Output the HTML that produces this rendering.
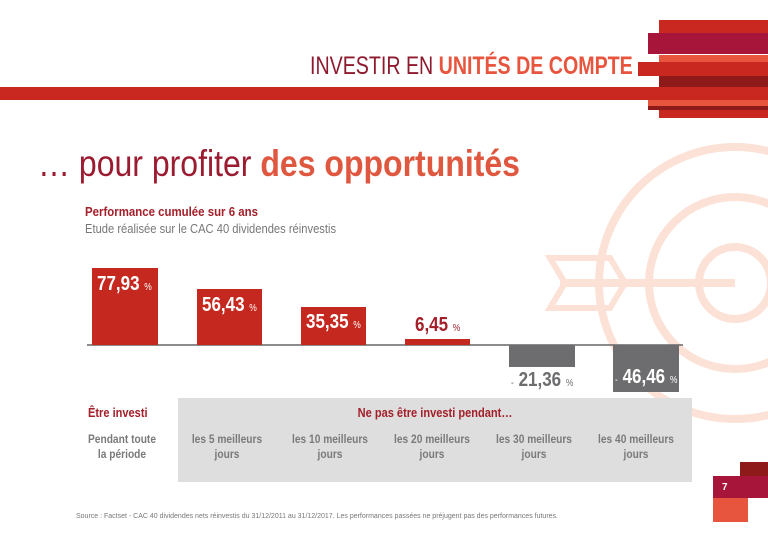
<!DOCTYPE html>
<html><head><meta charset="utf-8"><style>
*{margin:0;padding:0;box-sizing:border-box}
body{width:768px;height:543px;overflow:hidden;background:#fff;position:relative;font-family:"Liberation Sans",sans-serif}
.a{position:absolute;transform-origin:0 0}
.bar{position:absolute;background:#c4281f}
.g{background:#6d6d6f}
.lab{position:absolute;color:#fff;font-weight:bold;font-size:20px;white-space:nowrap;transform:scaleX(0.85);transform-origin:0 0}
.lab small{font-size:10px;font-weight:normal}
.row{position:absolute;top:432px;width:110px;text-align:center;font-size:12px;color:#7a7a7a;line-height:15px;font-weight:bold;transform:scaleX(0.85);transform-origin:50% 0}
</style></head><body>
<svg class="a" style="left:0;top:0" width="768" height="543">
<g fill="none" stroke="#fbe1d6" stroke-width="8">
<circle cx="735" cy="283" r="136"/>
<circle cx="735" cy="283" r="86"/>
<circle cx="735" cy="283" r="36"/>
<line x1="560" y1="283" x2="735" y2="283"/>
<path d="M550 258 L610 258 L625 283 L610 308 L550 308 L565 283 Z" stroke-width="6"/>
</g>
<rect x="659" y="20" width="109" height="13" fill="#c8281f"/>
<rect x="648" y="33" width="120" height="21" fill="#a8153a"/>
<rect x="659" y="55" width="109" height="7" fill="#e8553f"/>
<rect x="638" y="62" width="130" height="14" fill="#c8281f"/>
<rect x="659" y="76" width="109" height="11" fill="#8e1a1a"/>
<rect x="0" y="87" width="768" height="13" fill="#c8281f"/>
<rect x="648" y="100" width="120" height="6" fill="#e8553f"/>
<rect x="648" y="106" width="120" height="4" fill="#8e1a1a"/>
<rect x="659" y="110" width="109" height="8" fill="#c8281f"/>
<rect x="740" y="462" width="28" height="14" fill="#8e1a1a"/>
<rect x="713" y="476" width="55" height="22" fill="#a8153a"/>
<rect x="713" y="498" width="35" height="24" fill="#e8553f"/>
<rect x="178" y="398" width="514" height="84" fill="#dedede"/>
<line x1="87" y1="345" x2="683" y2="345" stroke="#666" stroke-width="1.5"/>
</svg>
<div class="a" style="left:722px;top:482px;color:#fff;font-size:10px;font-weight:bold">7</div>
<div class="a" style="left:310px;top:52px;font-size:25px;color:#8e1a2e;white-space:nowrap;transform:scaleX(0.785)">INVESTIR EN <b style="color:#e8553f">UNITÉS DE COMPTE</b></div>
<div class="a" style="left:38px;top:143px;font-size:37px;color:#9b1b30;white-space:nowrap;transform:scaleX(0.865)">… pour profiter <b style="color:#e0573f">des opportunités</b></div>
<div class="a" style="left:85px;top:204px;font-size:13px;font-weight:bold;color:#a3202a;white-space:nowrap;transform:scaleX(0.88)">Performance cumulée sur 6 ans</div>
<div class="a" style="left:85px;top:221px;font-size:13px;color:#777;white-space:nowrap;transform:scaleX(0.86)">Etude réalisée sur le CAC 40 dividendes réinvestis</div>
<div class="bar" style="left:92px;top:268px;width:66px;height:77px"></div>
<div class="bar" style="left:197px;top:289px;width:65px;height:56px"></div>
<div class="bar" style="left:301px;top:307px;width:65px;height:38px"></div>
<div class="bar" style="left:405px;top:339px;width:65px;height:6px"></div>
<div class="bar g" style="left:509px;top:345px;width:66px;height:22px"></div>
<div class="bar g" style="left:613px;top:345px;width:66px;height:47px"></div>
<div class="lab" style="left:97px;top:273px">77,93 <small>%</small></div>
<div class="lab" style="left:202px;top:294px">56,43 <small>%</small></div>
<div class="lab" style="left:306px;top:311px">35,35 <small>%</small></div>
<div class="lab" style="left:415px;top:314px;color:#a3202a">6,45 <small>%</small></div>
<div class="lab" style="left:511px;top:369px;color:#6d6d6f"><small>-</small> 21,36 <small>%</small></div>
<div class="lab" style="left:615px;top:366px"><small>-</small> 46,46 <small>%</small></div>
<div class="a" style="left:88px;top:405px;font-size:13px;font-weight:bold;color:#a3202a;transform:scaleX(0.85)">Être investi</div>
<div class="a" style="left:178px;top:405px;width:514px;text-align:center;font-size:13px;font-weight:bold;color:#a3202a;transform:scaleX(0.85);transform-origin:50% 0">Ne pas être investi pendant…</div>
<div class="row" style="left:67px">Pendant toute<br>la période</div>
<div class="row" style="left:172px">les 5 meilleurs<br>jours</div>
<div class="row" style="left:275px">les 10 meilleurs<br>jours</div>
<div class="row" style="left:377px">les 20 meilleurs<br>jours</div>
<div class="row" style="left:479px">les 30 meilleurs<br>jours</div>
<div class="row" style="left:581px">les 40 meilleurs<br>jours</div>
<div class="a" style="left:76px;top:513px;font-size:7px;color:#777;white-space:nowrap">Source : Factset - CAC 40 dividendes nets réinvestis du 31/12/2011 au 31/12/2017. Les performances passées ne préjugent pas des performances futures.</div>
</body></html>
